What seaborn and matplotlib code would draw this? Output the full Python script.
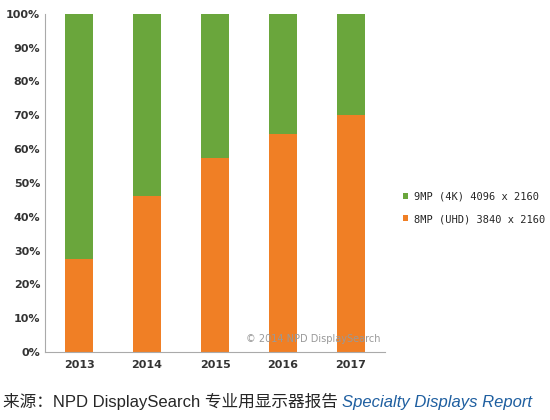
import matplotlib
matplotlib.use("Agg")
import matplotlib.pyplot as plt
import seaborn as sns
import pandas as pd

years = ["2013", "2014", "2015", "2016", "2017"]
uhd = [27.5, 46, 57.5, 64.5, 70]
labels = ["9MP (4K) 4096 x 2160", "8MP (UHD) 3840 x 2160"]
df = pd.DataFrame({"year": years, "uhd": uhd, "total": [100]*5})

sns.set_style("white")
plt.rcParams['font.family'] = ['DejaVu Sans']
fig = plt.figure(figsize=(5.5, 4.2), dpi=100)
ax = fig.add_axes([0.082, 0.162, 0.618, 0.805])
green = "#6aa63c"; orange = "#f07f25"
sns.barplot(data=df, x="year", y="total", color=green, width=0.42, saturation=1, ax=ax, label=labels[0], linewidth=0)
sns.barplot(data=df, x="year", y="uhd", color=orange, width=0.42, saturation=1, ax=ax, label=labels[1], linewidth=0)
h, l = ax.get_legend_handles_labels()
if ax.get_legend(): ax.get_legend().remove()
ax.set_ylim(0, 100)
ax.set_xlim(-0.5, 4.5)
ax.set_yticks(range(0, 101, 10))
ax.set_yticklabels([f"{v}%" for v in range(0, 101, 10)], fontsize=8, fontweight="bold", color="#333333")
ax.set_xticklabels(years, fontsize=8, fontweight="bold", color="#333333")
ax.set_xlabel(""); ax.set_ylabel("")
for s in ["top", "right"]:
    ax.spines[s].set_visible(False)
for s in ["left", "bottom"]:
    ax.spines[s].set_color("#aaaaaa")
ax.set_xticks([-0.5, 0.5, 1.5, 2.5, 3.5, 4.5], minor=True)
ax.tick_params(axis="x", which="major", length=0, pad=6)
ax.tick_params(axis="x", which="minor", length=4, color="#aaaaaa")
ax.tick_params(axis="y", length=0)
ax.text(3.45, 3.0, "© 2014 NPD DisplaySearch", fontsize=7, color="#999999", ha="center")
fig.legend(h, l, loc="center left", bbox_to_anchor=(0.715, 0.505), frameon=False,
           handlelength=0.5, handleheight=0.5, handletextpad=0.6, labelspacing=1.2,
           prop={"family": "DejaVu Sans Mono", "size": 7.5})
t1 = fig.text(0.005, 0.03, "来源：NPD DisplaySearch 专业用显示器报告 ", fontsize=12,
              family=["Liberation Sans", "Noto Sans CJK SC"])
fig.canvas.draw()
bb = t1.get_window_extent()
fig.text(bb.x1 / fig.bbox.width, 0.03, "Specialty Displays Report", fontsize=12, style="italic",
         color="#1f5fa0", family=["Liberation Sans"])
fig.savefig("out.png", dpi=100)
